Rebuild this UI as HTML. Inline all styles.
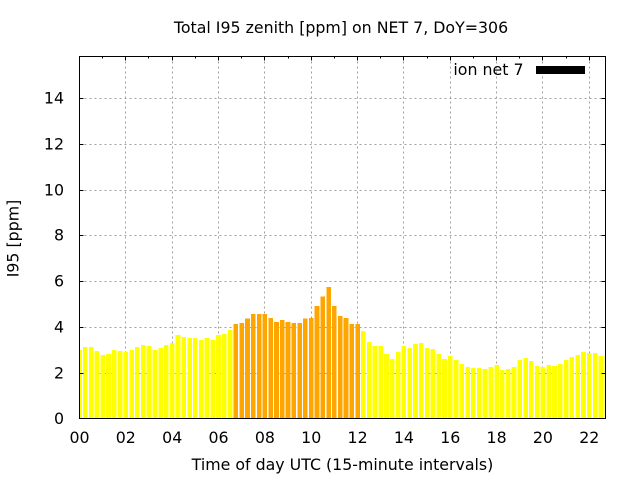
<!DOCTYPE html>
<html><head><meta charset="utf-8"><style>
html,body{margin:0;padding:0;background:#fff;}
svg{display:block;}
text{font-family:"DejaVu Sans","Liberation Sans",sans-serif;font-size:15.8px;fill:#000;}
</style></head><body>
<svg width="640" height="480" viewBox="0 0 640 480" xmlns="http://www.w3.org/2000/svg">
<rect x="0" y="0" width="640" height="480" fill="#fff"/>
<defs><clipPath id="pc"><rect x="79.5" y="56.5" width="526" height="362"/></clipPath></defs>
<g stroke="#a0a0a0" stroke-width="1" stroke-dasharray="2,3" fill="none">
<path d="M125.5 56.5V418.5M172.5 56.5V418.5M218.5 56.5V418.5M264.5 56.5V418.5M311.5 56.5V418.5M357.5 56.5V418.5M403.5 56.5V418.5M450.5 56.5V418.5M496.5 56.5V418.5M542.5 56.5V418.5M589.5 56.5V418.5"/>
<path d="M79.5 373.5H605.5M79.5 327.5H605.5M79.5 281.5H605.5M79.5 235.5H605.5M79.5 190.5H605.5M79.5 144.5H605.5M79.5 98.5H605.5"/>
</g>
<g clip-path="url(#pc)" shape-rendering="crispEdges">
<g transform="matrix(1,0,0,-22.9,0,418.8)" fill="#ffff00">
<rect x="77.2" y="0" width="4.6" height="3.00"/>
<rect x="83.0" y="0" width="4.6" height="3.14"/>
<rect x="88.8" y="0" width="4.6" height="3.14"/>
<rect x="94.6" y="0" width="4.6" height="2.96"/>
<rect x="100.4" y="0" width="4.6" height="2.79"/>
<rect x="106.2" y="0" width="4.6" height="2.83"/>
<rect x="112.0" y="0" width="4.6" height="3.00"/>
<rect x="117.8" y="0" width="4.6" height="2.96"/>
<rect x="123.5" y="0" width="4.6" height="2.92"/>
<rect x="129.3" y="0" width="4.6" height="3.00"/>
<rect x="135.1" y="0" width="4.6" height="3.14"/>
<rect x="140.9" y="0" width="4.6" height="3.23"/>
<rect x="146.7" y="0" width="4.6" height="3.18"/>
<rect x="152.5" y="0" width="4.6" height="3.00"/>
<rect x="158.3" y="0" width="4.6" height="3.09"/>
<rect x="164.1" y="0" width="4.6" height="3.23"/>
<rect x="169.9" y="0" width="4.6" height="3.31"/>
<rect x="175.7" y="0" width="4.6" height="3.66"/>
<rect x="181.5" y="0" width="4.6" height="3.58"/>
<rect x="187.3" y="0" width="4.6" height="3.53"/>
<rect x="193.1" y="0" width="4.6" height="3.53"/>
<rect x="198.9" y="0" width="4.6" height="3.44"/>
<rect x="204.6" y="0" width="4.6" height="3.53"/>
<rect x="210.4" y="0" width="4.6" height="3.44"/>
<rect x="216.2" y="0" width="4.6" height="3.66"/>
<rect x="222.0" y="0" width="4.6" height="3.71"/>
<rect x="227.8" y="0" width="4.6" height="3.88"/>
<rect x="361.1" y="0" width="4.6" height="3.84"/>
<rect x="366.9" y="0" width="4.6" height="3.36"/>
<rect x="372.6" y="0" width="4.6" height="3.18"/>
<rect x="378.4" y="0" width="4.6" height="3.18"/>
<rect x="384.2" y="0" width="4.6" height="2.83"/>
<rect x="390.0" y="0" width="4.6" height="2.61"/>
<rect x="395.8" y="0" width="4.6" height="2.92"/>
<rect x="401.6" y="0" width="4.6" height="3.18"/>
<rect x="407.4" y="0" width="4.6" height="3.09"/>
<rect x="413.2" y="0" width="4.6" height="3.27"/>
<rect x="419.0" y="0" width="4.6" height="3.31"/>
<rect x="424.8" y="0" width="4.6" height="3.09"/>
<rect x="430.6" y="0" width="4.6" height="3.05"/>
<rect x="436.4" y="0" width="4.6" height="2.83"/>
<rect x="442.2" y="0" width="4.6" height="2.61"/>
<rect x="448.0" y="0" width="4.6" height="2.74"/>
<rect x="453.7" y="0" width="4.6" height="2.57"/>
<rect x="459.5" y="0" width="4.6" height="2.39"/>
<rect x="465.3" y="0" width="4.6" height="2.26"/>
<rect x="471.1" y="0" width="4.6" height="2.22"/>
<rect x="476.9" y="0" width="4.6" height="2.22"/>
<rect x="482.7" y="0" width="4.6" height="2.18"/>
<rect x="488.5" y="0" width="4.6" height="2.26"/>
<rect x="494.3" y="0" width="4.6" height="2.35"/>
<rect x="500.1" y="0" width="4.6" height="2.13"/>
<rect x="505.9" y="0" width="4.6" height="2.18"/>
<rect x="511.7" y="0" width="4.6" height="2.26"/>
<rect x="517.5" y="0" width="4.6" height="2.57"/>
<rect x="523.3" y="0" width="4.6" height="2.66"/>
<rect x="529.1" y="0" width="4.6" height="2.52"/>
<rect x="534.8" y="0" width="4.6" height="2.31"/>
<rect x="540.6" y="0" width="4.6" height="2.26"/>
<rect x="546.4" y="0" width="4.6" height="2.35"/>
<rect x="552.2" y="0" width="4.6" height="2.31"/>
<rect x="558.0" y="0" width="4.6" height="2.39"/>
<rect x="563.8" y="0" width="4.6" height="2.57"/>
<rect x="569.6" y="0" width="4.6" height="2.70"/>
<rect x="575.4" y="0" width="4.6" height="2.79"/>
<rect x="581.2" y="0" width="4.6" height="2.92"/>
<rect x="587.0" y="0" width="4.6" height="2.88"/>
<rect x="592.8" y="0" width="4.6" height="2.88"/>
<rect x="598.6" y="0" width="4.6" height="2.74"/>
<rect x="604.4" y="0" width="4.6" height="2.74"/>
</g>
<g transform="matrix(1,0,0,-22.9,0,418.8)" fill="#ffa500">
<rect x="233.6" y="0" width="4.6" height="4.14"/>
<rect x="239.4" y="0" width="4.6" height="4.19"/>
<rect x="245.2" y="0" width="4.6" height="4.37"/>
<rect x="251.0" y="0" width="4.6" height="4.58"/>
<rect x="256.8" y="0" width="4.6" height="4.58"/>
<rect x="262.6" y="0" width="4.6" height="4.58"/>
<rect x="268.4" y="0" width="4.6" height="4.41"/>
<rect x="274.2" y="0" width="4.6" height="4.23"/>
<rect x="280.0" y="0" width="4.6" height="4.32"/>
<rect x="285.7" y="0" width="4.6" height="4.23"/>
<rect x="291.5" y="0" width="4.6" height="4.19"/>
<rect x="297.3" y="0" width="4.6" height="4.19"/>
<rect x="303.1" y="0" width="4.6" height="4.37"/>
<rect x="308.9" y="0" width="4.6" height="4.41"/>
<rect x="314.7" y="0" width="4.6" height="4.93"/>
<rect x="320.5" y="0" width="4.6" height="5.33"/>
<rect x="326.3" y="0" width="4.6" height="5.76"/>
<rect x="332.1" y="0" width="4.6" height="4.93"/>
<rect x="337.9" y="0" width="4.6" height="4.49"/>
<rect x="343.7" y="0" width="4.6" height="4.41"/>
<rect x="349.5" y="0" width="4.6" height="4.14"/>
<rect x="355.3" y="0" width="4.6" height="4.14"/>
</g>
</g>
<g stroke="#000" stroke-width="1" fill="none">
<path d="M79.5 373.5h4M79.5 327.5h4M79.5 281.5h4M79.5 235.5h4M79.5 190.5h4M79.5 144.5h4M79.5 98.5h4"/>
<path d="M605.5 373.5h-4M605.5 327.5h-4M605.5 281.5h-4M605.5 235.5h-4M605.5 190.5h-4M605.5 144.5h-4M605.5 98.5h-4"/>
<path d="M125.5 56.5v4M172.5 56.5v4M218.5 56.5v4M264.5 56.5v4M311.5 56.5v4M357.5 56.5v4M403.5 56.5v4M450.5 56.5v4M496.5 56.5v4M542.5 56.5v4M589.5 56.5v4"/>
<path d="M102.5 56.5v2M148.5 56.5v2M195.5 56.5v2M241.5 56.5v2M288.5 56.5v2M334.5 56.5v2M380.5 56.5v2M427.5 56.5v2M473.5 56.5v2M519.5 56.5v2M566.5 56.5v2"/>
<rect x="79.5" y="56.5" width="526" height="362"/>
</g>
<g text-anchor="end">
<text x="64" y="424">0</text>
<text x="64" y="378.5">2</text>
<text x="64" y="332.5">4</text>
<text x="64" y="286.5">6</text>
<text x="64" y="240.5">8</text>
<text x="64" y="195.5">10</text>
<text x="64" y="149.5">12</text>
<text x="64" y="103.5">14</text>
</g>
<g text-anchor="middle">
<text x="79.5" y="443">00</text>
<text x="125.8" y="443">02</text>
<text x="172.2" y="443">04</text>
<text x="218.5" y="443">06</text>
<text x="264.9" y="443">08</text>
<text x="311.2" y="443">10</text>
<text x="357.6" y="443">12</text>
<text x="403.9" y="443">14</text>
<text x="450.3" y="443">16</text>
<text x="496.6" y="443">18</text>
<text x="542.9" y="443">20</text>
<text x="589.3" y="443">22</text>
</g>
<text x="341" y="33" text-anchor="middle">Total I95 zenith [ppm] on NET 7, DoY=306</text>
<text x="342.5" y="470" text-anchor="middle">Time of day UTC (15-minute intervals)</text>
<text transform="translate(18.5,238.5) rotate(-90)" text-anchor="middle">I95 [ppm]</text>
<text x="523.5" y="75" text-anchor="end">ion net 7</text>
<rect x="536" y="66" width="49" height="8" fill="#000"/>
</svg>
</body></html>
